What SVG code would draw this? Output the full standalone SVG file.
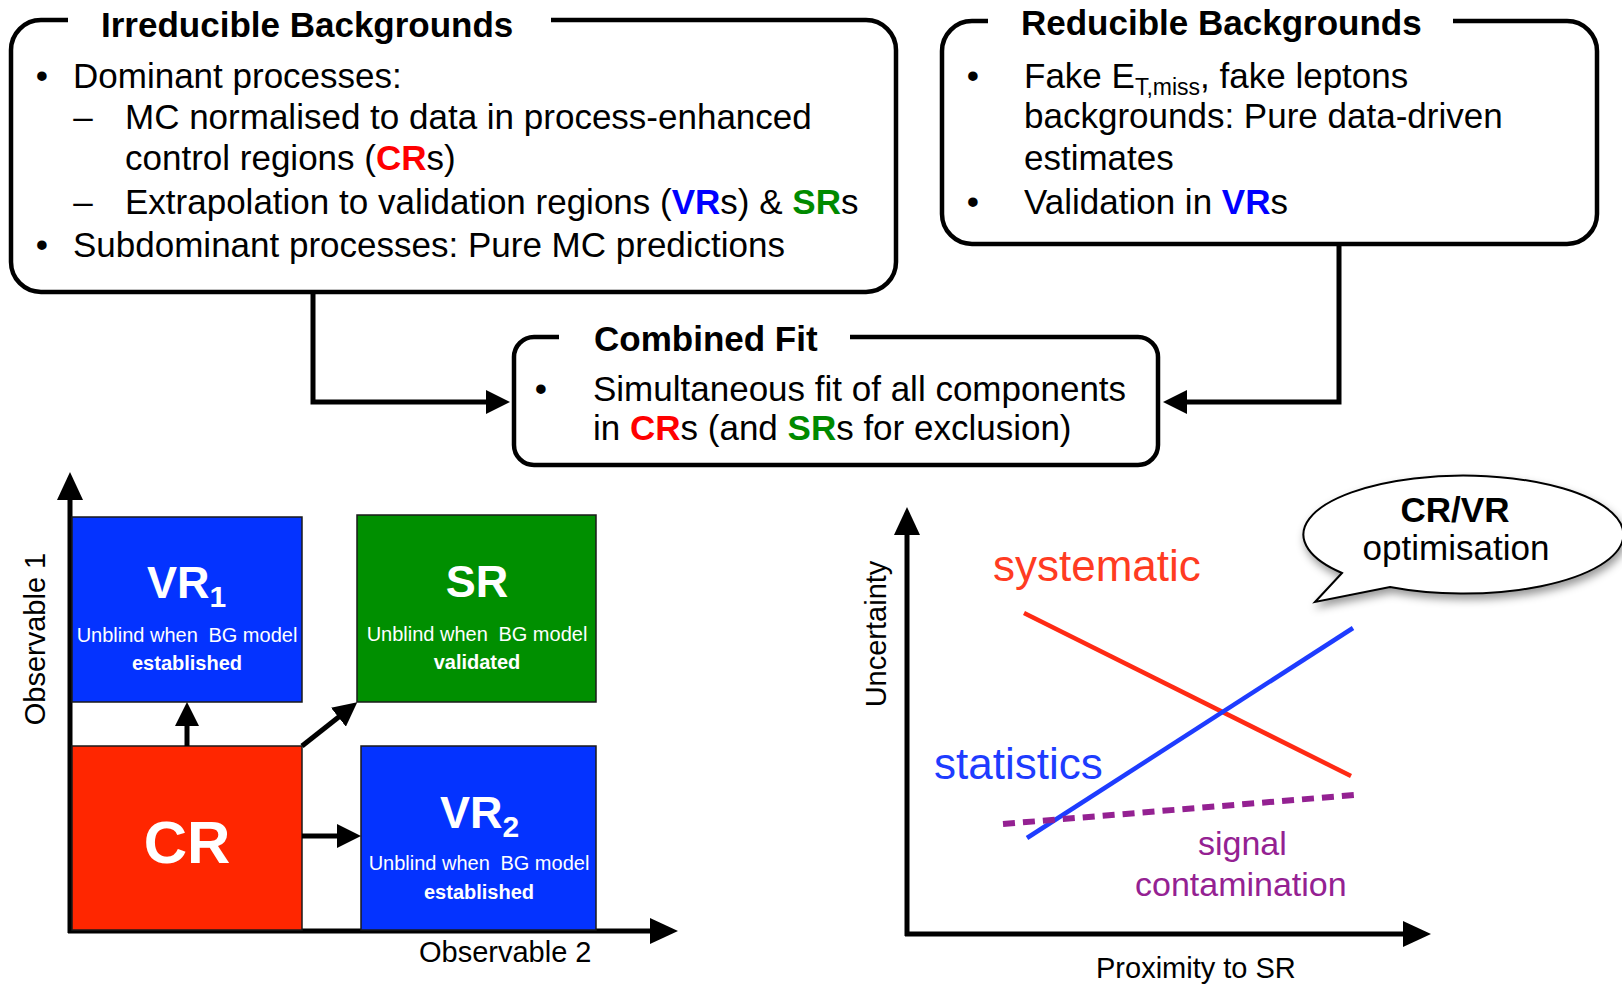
<svg xmlns="http://www.w3.org/2000/svg" width="1622" height="984" viewBox="0 0 1622 984">
  <style>
    text { font-family: "Liberation Sans", Arial, Helvetica, sans-serif; fill: #000; }
    .frame { fill: none; stroke: #000; stroke-width: 4.5; stroke-linejoin: round; }
    .title { font-size: 35px; font-weight: bold; }
    .body { font-size: 35px; }
    .mid { text-anchor: middle; }
    .cr { fill: #ff0000; font-weight: bold; }
    .vr { fill: #0000ff; font-weight: bold; }
    .sr { fill: #008a00; font-weight: bold; }
    .link { fill: none; stroke: #000; stroke-width: 5; stroke-linejoin: miter; }
    .axis { fill: none; stroke: #000; stroke-width: 5; }
    .region { stroke: #1a1a1a; stroke-width: 1.5; }
    .rlabel { fill: #fff; font-weight: bold; }
    .rnote { fill: #fff; font-size: 20px; text-anchor: middle; }
    .rnoteb { fill: #fff; font-size: 20px; font-weight: bold; text-anchor: middle; }
    .axlabel { font-size: 29px; }
    .sys { fill: #ff3b22; font-size: 44px; }
    .stat { fill: #1e3cff; font-size: 44px; }
    .sig { fill: #942192; font-size: 34px; }
  </style>
  <defs>
    <marker id="ah" viewBox="0 0 24 24" markerWidth="24" markerHeight="24" refX="2" refY="12" orient="auto" markerUnits="userSpaceOnUse">
      <path d="M0,0 L24,12 L0,24 z" fill="#000"/>
    </marker>
    <marker id="axhead" viewBox="0 0 28 26" markerWidth="28" markerHeight="26" refX="2" refY="13" orient="auto" markerUnits="userSpaceOnUse">
      <path d="M0,0 L28,13 L0,26 z" fill="#000"/>
    </marker>
    <filter id="bubbleShadow" x="-10%" y="-20%" width="130%" height="150%">
      <feDropShadow dx="2" dy="5" stdDeviation="4" flood-color="#000" flood-opacity="0.4"/>
    </filter>
  </defs>

  <rect x="0" y="0" width="1622" height="984" fill="#fff"/>

  <!-- Irreducible backgrounds -->
  <g id="irreducible">
    <path class="frame" d="M551,20 H866 A30,30 0 0 1 896,50 V262 A30,30 0 0 1 866,292 H41 A30,30 0 0 1 11,262 V50 A30,30 0 0 1 41,20 H68"/>
    <text class="title" x="101" y="37">Irreducible Backgrounds</text>
    <text class="body mid" x="42" y="88">•</text>
    <text class="body" x="73" y="88">Dominant processes:</text>
    <text class="body mid" x="83" y="129">–</text>
    <text class="body" x="125" y="129">MC normalised to data in process-enhanced</text>
    <text class="body" x="125" y="170">control regions (<tspan class="cr">CR</tspan>s)</text>
    <text class="body mid" x="83" y="214">–</text>
    <text class="body" x="125" y="214">Extrapolation to validation regions (<tspan class="vr">VR</tspan>s) &amp; <tspan class="sr">SR</tspan>s</text>
    <text class="body mid" x="42" y="257">•</text>
    <text class="body" x="73" y="257">Subdominant processes: Pure MC predictions</text>
  </g>

  <!-- Reducible backgrounds -->
  <g id="reducible">
    <path class="frame" d="M1453,21 H1567 A30,30 0 0 1 1597,51 V214 A30,30 0 0 1 1567,244 H972 A30,30 0 0 1 942,214 V51 A30,30 0 0 1 972,21 H988"/>
    <text class="title" x="1021" y="35">Reducible Backgrounds</text>
    <text class="body mid" x="973" y="88">•</text>
    <text class="body" x="1024" y="88">Fake E<tspan font-size="23" dy="7">T,miss</tspan><tspan dy="-7">, fake leptons</tspan></text>
    <text class="body" x="1024" y="128">backgrounds: Pure data-driven</text>
    <text class="body" x="1024" y="170">estimates</text>
    <text class="body mid" x="973" y="214">•</text>
    <text class="body" x="1024" y="214">Validation in <tspan class="vr">VR</tspan>s</text>
  </g>

  <!-- Combined fit -->
  <g id="combined-fit">
    <path class="frame" d="M850,337 H1138 A20,20 0 0 1 1158,357 V445 A20,20 0 0 1 1138,465 H534 A20,20 0 0 1 514,445 V357 A20,20 0 0 1 534,337 H559"/>
    <text class="title" x="594" y="351">Combined Fit</text>
    <text class="body mid" x="541" y="401">•</text>
    <text class="body" x="593" y="401">Simultaneous fit of all components</text>
    <text class="body" x="593" y="440">in <tspan class="cr">CR</tspan>s (and <tspan class="sr">SR</tspan>s for exclusion)</text>
  </g>

  <!-- Connectors between the boxes -->
  <g id="connectors">
    <path class="link" d="M313,292 V402 H488" marker-end="url(#ah)"/>
    <path class="link" d="M1339,244 V402 H1185" marker-end="url(#ah)"/>
  </g>

  <!-- Region layout in the (Observable 2, Observable 1) plane -->
  <g id="region-plot">
    <line class="axis" x1="70" y1="933" x2="70" y2="498" marker-end="url(#axhead)"/>
    <line class="axis" x1="68" y1="931" x2="652" y2="931" marker-end="url(#axhead)"/>
    <text class="axlabel mid" x="45" y="639" transform="rotate(-90 45 639)">Observable 1</text>
    <text class="axlabel" x="419" y="962">Observable 2</text>

    <g id="vr1">
      <rect class="region" x="72" y="517" width="230" height="185" fill="#0433ff"/>
      <text class="rlabel" x="147" y="598" font-size="45">VR<tspan font-size="30" dy="9">1</tspan></text>
      <text class="rnote" x="187" y="642">Unblind when <tspan dx="5">BG model</tspan></text>
      <text class="rnoteb" x="187" y="670">established</text>
    </g>
    <g id="sr">
      <rect class="region" x="357" y="515" width="239" height="187" fill="#008f00"/>
      <text class="rlabel mid" x="477" y="597" font-size="45">SR</text>
      <text class="rnote" x="477" y="641">Unblind when <tspan dx="5">BG model</tspan></text>
      <text class="rnoteb" x="477" y="669">validated</text>
    </g>
    <g id="cr">
      <rect class="region" x="72" y="746" width="230" height="184" fill="#ff2600"/>
      <text class="rlabel mid" x="187" y="863" font-size="60">CR</text>
    </g>
    <g id="vr2">
      <rect class="region" x="361" y="746" width="235" height="184" fill="#0433ff"/>
      <text class="rlabel" x="440" y="828" font-size="45">VR<tspan font-size="30" dy="9">2</tspan></text>
      <text class="rnote" x="479" y="870">Unblind when <tspan dx="5">BG model</tspan></text>
      <text class="rnoteb" x="479" y="899">established</text>
    </g>

    <g id="region-links">
      <line class="link" stroke-width="4.5" x1="187" y1="746" x2="187" y2="724" marker-end="url(#ah)"/>
      <line class="link" stroke-width="4.5" x1="302" y1="746" x2="340" y2="716" marker-end="url(#ah)"/>
      <line class="link" stroke-width="4.5" x1="302" y1="836" x2="339" y2="836" marker-end="url(#ah)"/>
    </g>
  </g>

  <!-- Uncertainty versus proximity to the signal region -->
  <g id="uncertainty-plot">
    <line class="axis" x1="907" y1="936" x2="907" y2="533" marker-end="url(#axhead)"/>
    <line class="axis" x1="905" y1="934" x2="1405" y2="934" marker-end="url(#axhead)"/>
    <text class="axlabel mid" x="886" y="634" transform="rotate(-90 886 634)">Uncertainty</text>
    <text class="axlabel" x="1096" y="978">Proximity to SR</text>

    <line x1="1024" y1="613" x2="1351" y2="776" stroke="#ff2a14" stroke-width="4.5"/>
    <line x1="1027" y1="838" x2="1353" y2="628" stroke="#1e3cff" stroke-width="4.5"/>
    <line x1="1003" y1="824" x2="1355" y2="795" stroke="#942192" stroke-width="6" stroke-dasharray="12 8"/>

    <text class="sys" x="993" y="581">systematic</text>
    <text class="stat" x="934" y="779">statistics</text>
    <text class="sig" x="1198" y="855">signal</text>
    <text class="sig" x="1135" y="896">contamination</text>
  </g>

  <!-- Speech bubble -->
  <g id="bubble">
    <path d="M1342,573 L1315,602 L1390,587 A160,59 0 1 0 1342,573 Z" fill="#fff" stroke="#000" stroke-width="2" filter="url(#bubbleShadow)"/>
    <text class="mid" x="1455" y="522" font-size="35" font-weight="bold">CR/VR</text>
    <text class="mid" x="1456" y="560" font-size="35">optimisation</text>
  </g>
</svg>
